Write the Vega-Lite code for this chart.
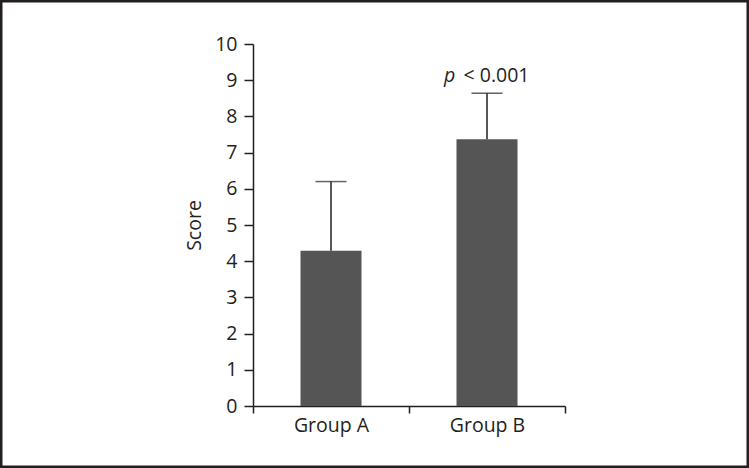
{
  "$schema": "https://vega.github.io/schema/vega-lite/v6.json",
  "width": 749,
  "height": 468,
  "autosize": {"type": "none"},
  "padding": 0,
  "background": "white",
  "config": {
    "view": {"stroke": "#231f20", "strokeWidth": 5, "fill": "white"},
    "font": "Open Sans"
  },
  "datasets": {
    "bars": [
      {"group": "Group A", "mean": 4.29, "upper": 6.2},
      {"group": "Group B", "mean": 7.37, "upper": 8.64}
    ],
    "annot": [
      {"group": "Group B", "pos": 8.95, "p": "p", "rest": "< 0.001"}
    ]
  },
  "encoding": {
    "x": {
      "field": "group",
      "type": "nominal",
      "title": null,
      "scale": {"range": [253, 565], "paddingInner": 0, "paddingOuter": 0},
      "axis": {
        "orient": "bottom",
        "offset": -62,
        "labelAngle": 0,
        "tickBand": "extent",
        "tickSize": 7,
        "tickWidth": 1.5,
        "tickColor": "#231f20",
        "domainColor": "#231f20",
        "domainWidth": 1.5,
        "labelFontSize": 19.5,
        "labelColor": "#231f20",
        "labelPadding": 3,
        "grid": false
      }
    }
  },
  "layer": [
    {
      "data": {"name": "bars"},
      "mark": {"type": "bar", "color": "#555555", "width": 61},
      "encoding": {
        "y": {
          "field": "mean",
          "type": "quantitative",
          "title": "Score",
          "scale": {"domain": [0, 10], "range": [406, 44], "nice": false},
          "axis": {
            "orient": "left",
            "offset": -253,
            "values": [0, 1, 2, 3, 4, 5, 6, 7, 8, 9, 10],
            "tickSize": 9,
            "tickWidth": 1.5,
            "tickColor": "#231f20",
            "domainColor": "#231f20",
            "domainWidth": 1.5,
            "labelFontSize": 19.5,
            "labelColor": "#231f20",
            "labelPadding": 7,
            "titleFontSize": 19.5,
            "titleFontWeight": "normal",
            "titleColor": "#231f20",
            "titlePadding": 10,
            "grid": false
          }
        }
      }
    },
    {
      "data": {"name": "bars"},
      "mark": {"type": "rule", "color": "#231f20", "strokeWidth": 1.5},
      "encoding": {
        "y": {"field": "mean", "type": "quantitative", "title": "Score"},
        "y2": {"field": "upper"}
      }
    },
    {
      "data": {"name": "bars"},
      "mark": {"type": "tick", "color": "#231f20", "size": 31, "thickness": 1.5},
      "encoding": {
        "y": {"field": "upper", "type": "quantitative", "title": "Score"}
      }
    },
    {
      "data": {"name": "annot"},
      "mark": {"type": "text", "fontSize": 19.5, "fontStyle": "italic", "color": "#231f20", "align": "center", "baseline": "alphabetic", "dx": -37.5},
      "encoding": {
        "y": {"field": "pos", "type": "quantitative", "title": "Score"},
        "text": {"field": "p"}
      }
    },
    {
      "data": {"name": "annot"},
      "mark": {"type": "text", "fontSize": 19.5, "color": "#231f20", "align": "center", "baseline": "alphabetic", "dx": 9.5},
      "encoding": {
        "y": {"field": "pos", "type": "quantitative", "title": "Score"},
        "text": {"field": "rest"}
      }
    }
  ]
}
